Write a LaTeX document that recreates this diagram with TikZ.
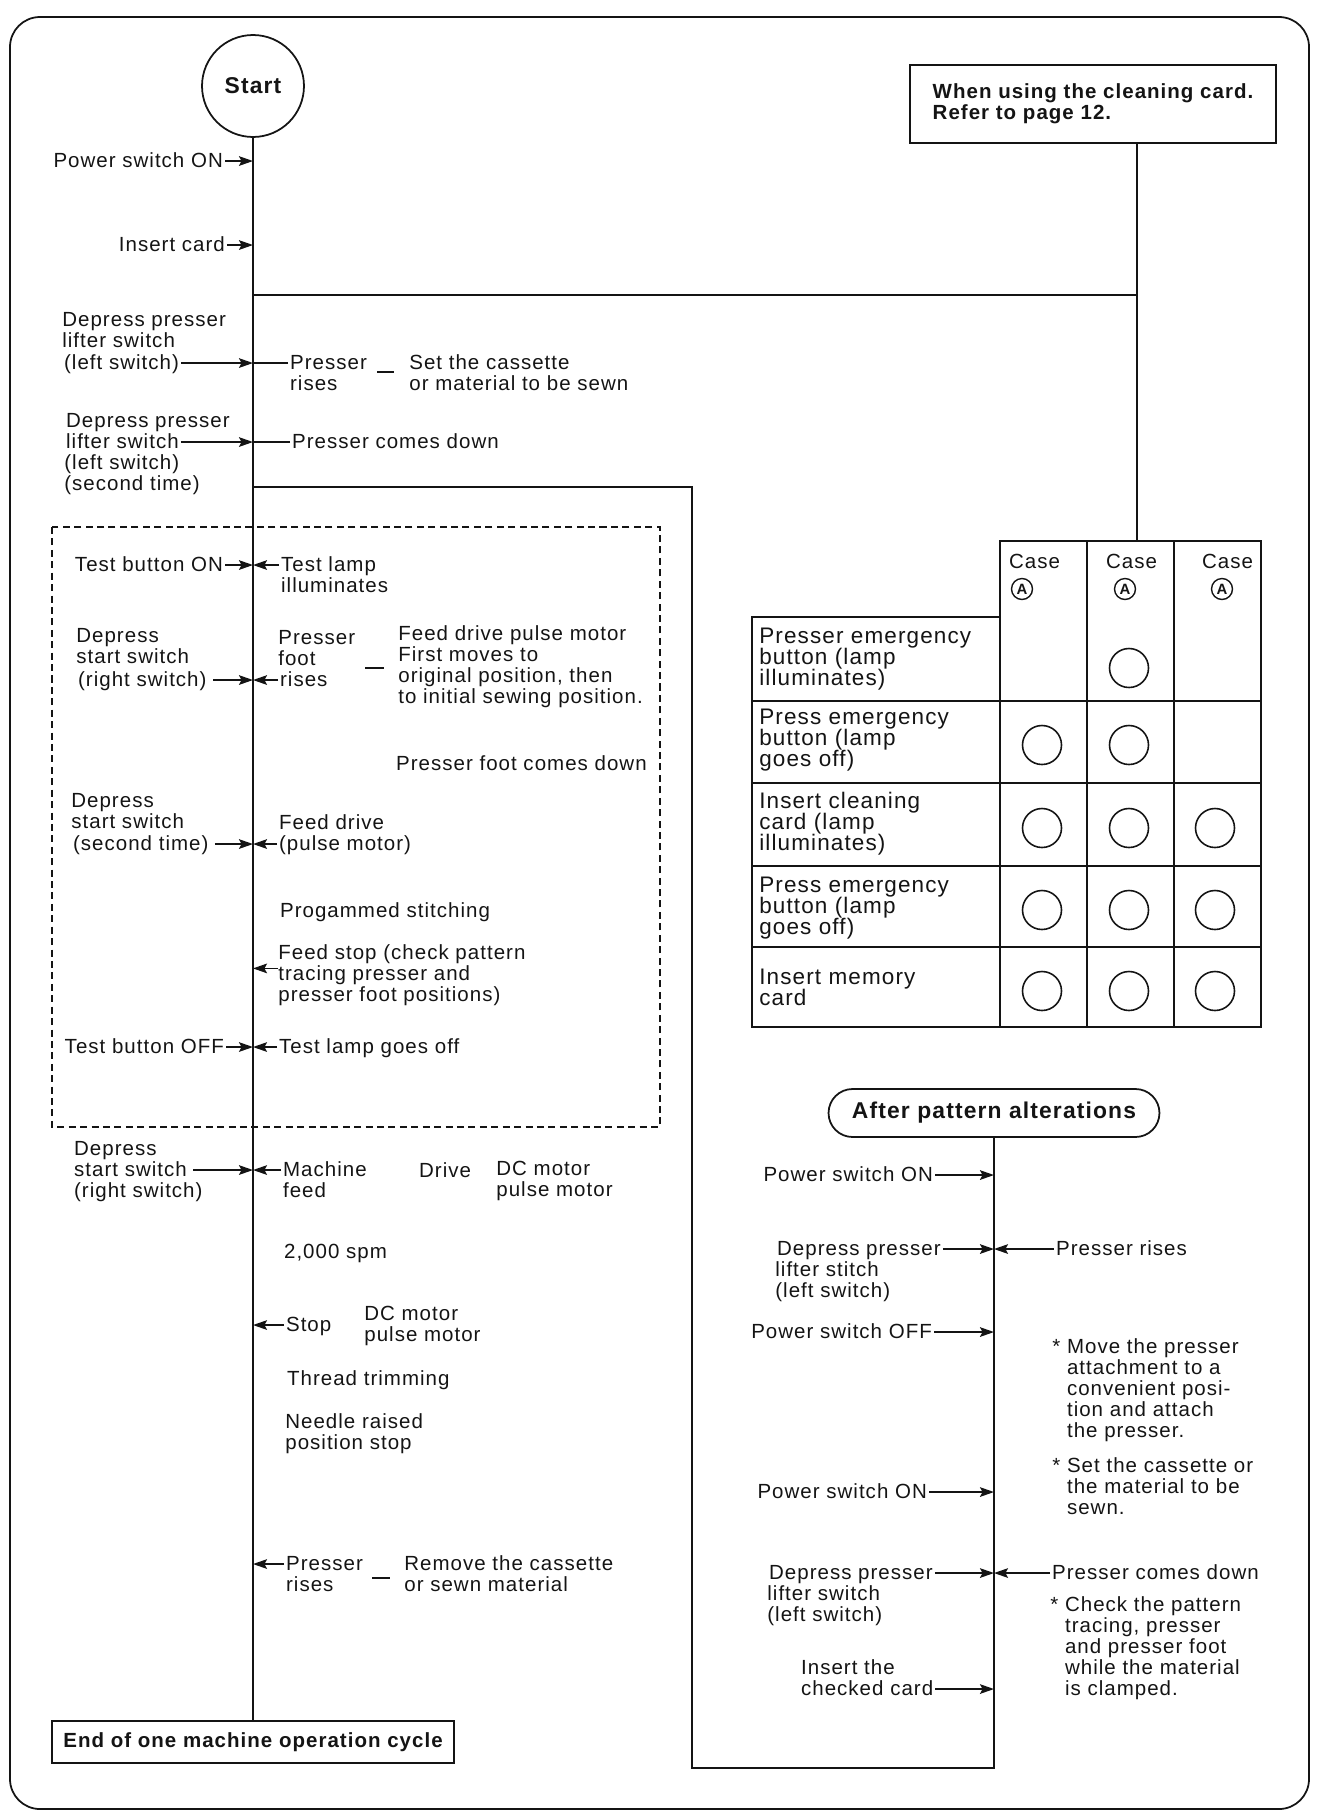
\documentclass[tikz,border=0pt]{standalone}
\usepackage{fontspec}
\setmainfont{Liberation Sans}[LetterSpace=5]
\usetikzlibrary{arrows.meta}
\definecolor{ink}{RGB}{20,20,20}
\newcommand{\mainsize}{\fontsize{11.66}{11.95}\selectfont}
\newcommand{\tabsize}{\fontsize{12.8}{11.95}\selectfont}
\newcommand{\starpad}{\phantom{*\ }}
\tikzset{
    startnode/.style={circle, draw=ink, line width=1pt, minimum size=2.04cm, inner sep=0pt, font=\fontsize{13}{13}\selectfont\bfseries, text=ink},
    txt/.style={inner sep=1pt, text height=8.5pt, text depth=1.7pt, font=\mainsize, text=ink},
    blk/.style={inner sep=0pt, align=left, font=\mainsize, text=ink},
    tabtxt/.style={inner sep=0pt, align=left, font=\tabsize, text=ink},
    boldbox/.style={rectangle, draw=ink, line width=1pt, inner sep=0pt, font=\mainsize\bfseries, text=ink},
    roundtitle/.style={rectangle, rounded corners=0.48cm, draw=ink, line width=1pt, minimum width=6.62cm, minimum height=0.96cm, font=\fontsize{13}{13}\selectfont\bfseries, text=ink},
    casemark/.style={circle, draw=ink, line width=0.8pt, inner sep=0pt, minimum size=0.42cm, font=\fontsize{8.5}{8.5}\selectfont\bfseries, text=ink},
    okmark/.style={circle, draw=ink, line width=0.9pt, minimum size=0.78cm, inner sep=0pt},
    flowline/.style={draw=ink, line width=1.1pt},
    tie/.style={draw=ink, line width=0.8pt},
    tableline/.style={draw=ink, line width=0.9pt},
    testzone/.style={draw=ink, line width=0.7pt, dash pattern=on 4pt off 2.5pt},
    arrow/.style={-{Stealth[length=8pt, width=5.5pt, inset=1.5pt]}, draw=ink, line width=0.9pt},
    gap/.style={shorten <=2.5pt},
}
\begin{document}
\begin{tikzpicture}[x=0.02cm, y=-0.02cm]
\useasboundingbox (0,0) rectangle (1318,1816);
\draw[ink, line width=1pt, rounded corners=0.6cm] (10,17) rectangle (1309,1809);

\node[startnode] (start) at (253,86) {Start};
\node[boldbox, minimum width=8.04cm, minimum height=0.84cm] (endcycle) at (253,1742) {End of one machine operation cycle};
\draw[flowline] (start) -- (endcycle);

\node[txt, anchor=base east] (pwon) at (225,167) {Power switch ON};
\draw[arrow] (pwon.east) -- (pwon.east -| start);
\node[txt, anchor=base east] (card) at (227,251) {Insert card};
\draw[arrow] (card.east) -- (card.east -| start);

\node[boldbox, minimum width=7.32cm, minimum height=1.56cm, align=left] (clean) at (1093,104) {When using the cleaning card.\\Refer to page 12.};
\coordinate (cleandrop) at (1137,541);
\coordinate (jcard) at (253,295);
\draw[flowline] (cleandrop |- clean.south) -- (cleandrop);
\draw[flowline] (jcard) -- (jcard -| cleandrop);

\node[blk, anchor=north west] (lift1) at (62,312) {Depress presser\\lifter switch};
\node[txt, anchor=base west] (lift1b) at (62,369) {(left switch)};
\draw[arrow] (lift1b.east) -- (lift1b.east -| start);
\node[txt, anchor=base west] (rise1) at (288,369) {Presser};
\draw[tie] (rise1.west) -- (rise1.west -| start);
\node[txt, anchor=base west] (rise1b) at (288,390) {rises};
\draw[tie, line width=0.6pt] (377,372) -- (394,372);
\node[blk, anchor=north west] (cass1) at (409,354) {Set the cassette\\or material to be sewn};

\node[txt, anchor=base west] (lift2a) at (64,427) {Depress presser};
\node[txt, anchor=base west] (lift2) at (64,448) {lifter switch};
\draw[arrow] (lift2.east) -- (lift2.east -| start);
\node[blk, anchor=north west] (lift2c) at (64,454) {(left switch)\\(second time)};
\node[txt, anchor=base west] (down1) at (290,448) {Presser comes down};
\draw[tie] (down1.west) -- (down1.west -| start);

\draw[testzone] (52,527) rectangle (660,1127);
\node[txt, anchor=base east] (tbon) at (225,571) {Test button ON};
\draw[arrow] (tbon.east) -- (tbon.east -| start);
\node[txt, anchor=base west] (lamp1) at (279,571) {Test lamp};
\draw[arrow] (lamp1.west) -- (lamp1.west -| start);
\node[txt, anchor=base west] (lamp1b) at (279,592) {illuminates};

\node[blk, anchor=north west] (ss1) at (76,628) {Depress\\start switch};
\node[txt, anchor=base west] (ss1c) at (76,686) {(right switch)};
\draw[arrow, gap] (ss1c.east) -- (ss1c.east -| start);
\node[blk, anchor=north west] (foot1) at (278,630) {Presser\\foot};
\node[txt, anchor=base west] (foot1c) at (278,686) {rises};
\draw[arrow] (foot1c.west) -- (foot1c.west -| start);
\draw[tie, line width=0.6pt] (365,668) -- (384,668);
\node[blk, anchor=north west] (feed1) at (398,625) {Feed drive pulse motor\\First moves to\\original position, then\\to initial sewing position.};
\node[txt, anchor=base west] (foot2) at (394,770) {Presser foot comes down};

\node[blk, anchor=north west] (ss2) at (71,793) {Depress\\start switch};
\node[txt, anchor=base west] (ss2c) at (71,850) {(second time)};
\draw[arrow, gap] (ss2c.east) -- (ss2c.east -| start);
\node[txt, anchor=base west] (pm1) at (277,829) {Feed drive};
\node[txt, anchor=base west] (pm1b) at (277,850) {(pulse motor)};
\draw[arrow] (pm1b.west) -- (pm1b.west -| start);
\node[txt, anchor=base west] (prog) at (278,917) {Progammed stitching};
\node[blk, anchor=north west] (fstop) at (278,944) {Feed stop (check pattern\\tracing presser and\\presser foot positions)};
\draw[arrow] ([yshift=0.13cm]fstop.west) -- ([yshift=0.13cm]fstop.west -| start);
\node[txt, anchor=base east] (tboff) at (226,1053) {Test button OFF};
\draw[arrow] (tboff.east) -- (tboff.east -| start);
\node[txt, anchor=base west] (lamp2) at (277,1053) {Test lamp goes off};
\draw[arrow] (lamp2.west) -- (lamp2.west -| start);

\node[txt, anchor=base west] (ss3a) at (72,1155) {Depress};
\node[txt, anchor=base west] (ss3) at (72,1176) {start switch};
\draw[arrow, gap] (ss3.east) -- (ss3.east -| start);
\node[txt, anchor=base west] (ss3c) at (72,1197) {(right switch)};
\node[txt, anchor=base west] (mfeed) at (281,1176) {Machine};
\draw[arrow] (mfeed.west) -- (mfeed.west -| start);
\node[txt, anchor=base west] (mfeedb) at (281,1197) {feed};
\node[txt, anchor=base west] (drive) at (417,1177) {Drive};
\node[blk, anchor=north west] (motor1) at (496,1161) {DC motor\\pulse motor};
\node[txt, anchor=base west] (spm) at (282,1258) {2,000 spm};
\node[txt, anchor=base west] (stop) at (284,1331) {Stop};
\draw[arrow] (stop.west) -- (stop.west -| start);
\node[blk, anchor=north west] (motor2) at (364,1306) {DC motor\\pulse motor};
\node[txt, anchor=base west] (trim) at (285,1385) {Thread trimming};
\node[blk, anchor=north west] (needle) at (285,1413) {Needle raised\\position stop};
\node[txt, anchor=base west] (rise2) at (284,1570) {Presser};
\draw[arrow] (rise2.west) -- (rise2.west -| start);
\node[txt, anchor=base west] (rise2b) at (284,1591) {rises};
\draw[tie, line width=0.6pt] (372,1578) -- (390,1578);
\node[blk, anchor=north west] (remove) at (404,1555) {Remove the cassette\\or sewn material};

\draw[tableline] (1000,541) rectangle (1261,1027);
\draw[tableline] (752,617) rectangle (1000,1027);
\foreach \x in {1087,1174} \draw[tableline] (\x,541) -- (\x,1027);
\foreach \y in {701,783,866,947} \draw[tableline] (752,\y) -- (1261,\y);
\foreach \cx/\ax [count=\i] in {1007/1022, 1104/1125, 1200/1222} {
    \node[txt, anchor=base west] (case\i) at (\cx,568) {Case};
    \node[casemark] (casea\i) at (\ax,589) {A};
}
\foreach \ty/\lab [count=\r] in {644/{Presser emergency\\button (lamp\\illuminates)}, 725/{Press emergency\\button (lamp\\goes off)}, 808/{Insert cleaning\\card (lamp\\illuminates)}, 893/{Press emergency\\button (lamp\\goes off)}, 985/{Insert memory\\card}}
    \node[tabtxt, anchor=north west] (row\r) at (759,\ty-16) {\lab};
\foreach \cx/\cy [count=\k] in {1129/668, 1042/745, 1129/745, 1042/828, 1129/828, 1215/828, 1042/910, 1129/910, 1215/910, 1042/991, 1129/991, 1215/991}
    \node[okmark] (ok\k) at (\cx,\cy) {};

\node[roundtitle] (after) at (994,1113) {After pattern alterations};
\coordinate (jpress) at (253,487);
\coordinate (jreturn) at (692,1768);
\draw[flowline] (jpress) -| (jreturn) -| (after.south);

\node[txt, anchor=base east] (pw2) at (935,1181) {Power switch ON};
\draw[arrow] (pw2.east) -- (pw2.east -| after);
\node[txt, anchor=base west] (lift3a) at (775,1255) {Depress presser};
\draw[arrow] (lift3a.east) -- (lift3a.east -| after);
\node[blk, anchor=north west] (lift3b) at (775,1261) {lifter stitch\\(left switch)};
\node[txt, anchor=base west] (rise3) at (1054,1255) {Presser rises};
\draw[arrow] (rise3.west) -- (rise3.west -| after);
\node[txt, anchor=base east] (pwoff) at (934,1338) {Power switch OFF};
\draw[arrow] (pwoff.east) -- (pwoff.east -| after);
\node[blk, anchor=north west] (note1) at (1052,1338) {*\ Move the presser\\\starpad attachment to a\\\starpad convenient posi-\\\starpad tion and attach\\\starpad the presser.};
\node[blk, anchor=north west] (note2) at (1052,1457) {*\ Set the cassette or\\\starpad the material to be\\\starpad sewn.};
\node[txt, anchor=base east] (pw3) at (929,1498) {Power switch ON};
\draw[arrow] (pw3.east) -- (pw3.east -| after);
\node[txt, anchor=base west] (lift4a) at (767,1579) {Depress presser};
\draw[arrow] (lift4a.east) -- (lift4a.east -| after);
\node[blk, anchor=north west] (lift4b) at (767,1585) {lifter switch\\(left switch)};
\node[txt, anchor=base west] (down2) at (1050,1579) {Presser comes down};
\draw[arrow] (down2.west) -- (down2.west -| after);
\node[blk, anchor=north west] (note3) at (1050,1596) {*\ Check the pattern\\\starpad tracing, presser\\\starpad and presser foot\\\starpad while the material\\\starpad is clamped.};
\node[txt, anchor=base west] (chk1) at (799,1674) {Insert the};
\node[txt, anchor=base west] (chk2) at (799,1695) {checked card};
\draw[arrow] (chk2.east) -- (chk2.east -| after);
\end{tikzpicture}
\end{document}
